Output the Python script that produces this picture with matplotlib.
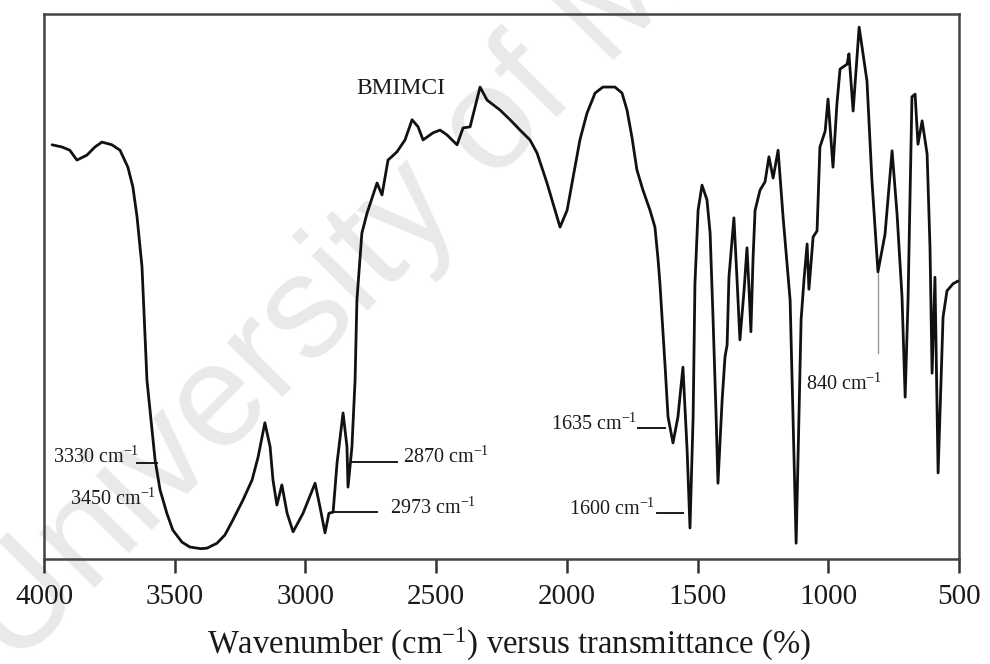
import matplotlib
matplotlib.use("Agg")
import matplotlib.pyplot as plt

# FTIR spectrum of BMIMCl: wavenumber (cm^-1) and transmittance (%)
wavenumber = [
    3969, 3931, 3901, 3874, 3836, 3805, 3778, 3740, 3709, 3679, 3660, 3644,
    3625, 3614, 3606, 3575, 3556, 3530, 3507, 3472, 3442, 3400, 3376, 3338,
    3308, 3277, 3239, 3204, 3181, 3155, 3135, 3124, 3109, 3090, 3070, 3047,
    3009, 2963, 2944, 2925, 2910, 2894, 2879, 2856, 2841, 2837, 2822, 2810,
    2803, 2784, 2764, 2726, 2707, 2684, 2650, 2619, 2592, 2569, 2550, 2512,
    2485, 2458, 2420, 2397, 2370, 2332, 2305, 2256, 2217, 2179, 2141, 2114,
    2076, 2045, 2026, 1999, 1976, 1950, 1923, 1892, 1862, 1816, 1789, 1770,
    1751, 1732, 1709, 1682, 1663, 1651, 1644, 1624, 1613, 1594, 1575, 1556,
    1540, 1529, 1517, 1510, 1498, 1483, 1464, 1452, 1441, 1429, 1422, 1406,
    1395, 1387, 1380, 1361, 1349, 1338, 1322, 1311, 1303, 1296, 1288, 1280,
    1261, 1242, 1227, 1211, 1192, 1173, 1146, 1123, 1104, 1093, 1081, 1074,
    1058, 1043, 1032, 1012, 1001, 982, 967, 955, 928, 921, 905, 882,
    852, 833, 810, 783, 756, 737, 718, 706, 695, 680, 668, 657,
    641, 622, 611, 603, 592, 580, 561, 546, 523, 504,
]
transmittance = [
    76.0, 75.6, 75.0, 73.2, 74.1, 75.6, 76.5, 76.0, 75.0, 71.9, 68.3, 62.8,
    53.6, 41.5, 32.8, 18.2, 12.7, 8.4, 5.3, 3.1, 2.2, 1.9, 2.0, 2.9,
    4.4, 7.2, 10.8, 14.5, 18.7, 25.0, 20.6, 14.5, 9.9, 13.6, 8.4, 5.0,
    8.4, 13.9, 9.5, 4.8, 8.4, 8.6, 17.6, 26.8, 20.6, 13.2, 20.6, 32.8,
    47.5, 59.8, 63.5, 69.0, 66.8, 73.2, 74.7, 76.9, 80.6, 79.3, 76.9, 78.2,
    78.7, 77.8, 76.0, 79.1, 79.3, 86.6, 84.2, 82.4, 80.6, 78.7, 76.9, 74.5,
    69.0, 64.0, 60.9, 64.0, 70.1, 76.9, 81.8, 85.5, 86.6, 86.6, 85.5, 82.4,
    77.4, 71.4, 67.7, 64.0, 60.9, 54.9, 50.6, 35.2, 26.1, 21.3, 26.1, 35.2,
    20.0, 5.7, 26.1, 50.6, 64.0, 68.6, 65.9, 59.8, 44.4, 26.1, 13.9, 29.2,
    37.1, 39.3, 51.7, 62.6, 51.2, 40.2, 49.4, 57.1, 49.4, 41.7, 54.9, 64.0,
    67.7, 69.2, 73.8, 69.9, 75.0, 62.8, 47.5, 2.9, 43.9, 51.2, 57.8, 49.5,
    59.1, 60.2, 75.6, 78.5, 84.4, 71.9, 83.5, 89.9, 90.8, 92.7, 82.2, 97.6,
    87.7, 69.4, 52.7, 59.6, 74.9, 63.3, 48.1, 29.7, 47.5, 84.8, 85.3, 76.1,
    80.4, 74.3, 57.2, 34.1, 51.7, 15.8, 44.4, 49.2, 50.5, 51.0,
]

x_ticks = [4000, 3500, 3000, 2500, 2000, 1500, 1000, 500]

# Band labels: (text, leader start, leader end, leader height, text x, text y, alignment)
band_labels = [
    ("3330", 3644, 3568, 17.6, 3636, 18.6, "right"),
    ("2870", 2822, 2650, 17.8, 2627, 18.6, "left"),
    ("2973", 2894, 2726, 8.6, 2676, 9.4, "left"),
    ("1635", 1728, 1624, 24.0, 1732, 24.8, "right"),
    ("1600", 1655, 1556, 8.4, 1663, 9.2, "right"),
]
label_3450 = ("3450", 3570, 11.0)
label_840 = ("840", 1085, 32.0)
pointer_840 = (810, 52.7, 37.8)

serif = ["Liberation Serif", "DejaVu Serif"]
plt.rcParams["font.family"] = serif
plt.rcParams["mathtext.fontset"] = "custom"
plt.rcParams["mathtext.rm"] = "Liberation Serif"
plt.rcParams["mathtext.it"] = "Liberation Serif:italic"
plt.rcParams["mathtext.bf"] = "Liberation Serif:bold"

fig = plt.figure(figsize=(9.9, 6.64), dpi=100)
ax = fig.add_axes([0.0444, 0.1581, 0.9243, 0.8208])

# faint diagonal watermark, drawn underneath the axes
fig.text(0.015, -0.009, "University of Malaya", rotation=45.5,
         rotation_mode="anchor", fontsize=105, family="Liberation Sans",
         color="#e9e9e9", ha="left", va="baseline", zorder=-1)
ax.patch.set_alpha(0)

ax.plot(wavenumber, transmittance, color="#111111", lw=2.0,
        solid_joinstyle="round", solid_capstyle="round", zorder=3)

ax.set_xlim(4000, 500)
ax.set_ylim(0, 100)
ax.set_xticks(x_ticks)
ax.set_xticklabels([str(t) for t in x_ticks], fontsize=21)
ax.set_yticks([])
ax.tick_params(axis="x", direction="out", length=10, width=1.8,
               color="#333333", pad=8, labelcolor="#1a1a1a")
for s in ax.spines.values():
    s.set_color("#444444")
    s.set_linewidth(1.8)

lab_fs = 14.5
sup = r" cm$^{-1}$"
for txt, x0, x1, yl, xt, yt, ha in band_labels:
    ax.plot([x0, x1], [yl, yl], color="#1a1a1a", lw=1.4, zorder=2)
    ax.text(xt, yt, txt + sup, fontsize=lab_fs, ha=ha, va="center",
            color="#1a1a1a")

t, xt, yt = label_3450
ax.text(xt, yt, t + sup, fontsize=lab_fs, ha="right", va="center",
        color="#1a1a1a")

xp, ytop, ybot = pointer_840
ax.plot([xp, xp], [ytop, ybot], color="#999999", lw=1.0, zorder=2)
t, xt, yt = label_840
ax.text(xt, yt, t + sup, fontsize=lab_fs, ha="left", va="center",
        color="#1a1a1a")

ax.text(2634, 86.4, "BMIMCI", fontsize=17, ha="center", va="center",
        color="#1a1a1a")

fig.text(0.514, 0.03, r"Wavenumber (cm$^{-1}$) versus transmittance (%)",
         fontsize=23.5, ha="center", va="center", color="#1a1a1a")

fig.savefig("out.png", dpi=100)
